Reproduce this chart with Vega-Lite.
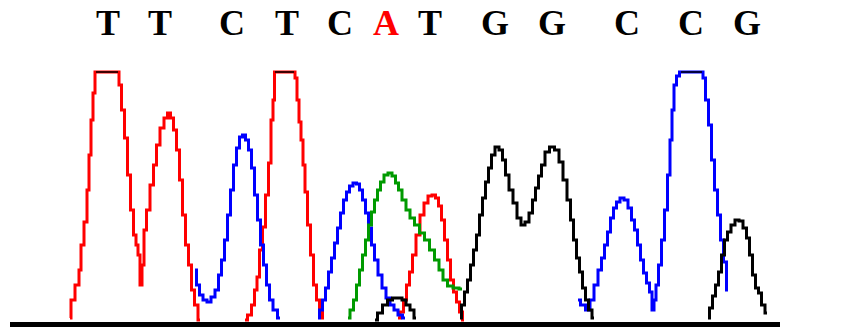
{
  "$schema": "https://vega.github.io/schema/vega-lite/v6.json",
  "width": 864,
  "height": 327,
  "autosize": {"type": "fit", "contains": "padding"},
  "padding": 0,
  "background": "white",
  "config": {"view": {"stroke": null}},
  "datasets": {
    "calls": [
      {"pos": 108, "base": "T"}, {"pos": 160, "base": "T"}, {"pos": 232, "base": "C"},
      {"pos": 287, "base": "T"}, {"pos": 340, "base": "C"}, {"pos": 386, "base": "A"},
      {"pos": 430, "base": "T"}, {"pos": 495, "base": "G"}, {"pos": 552, "base": "G"},
      {"pos": 627, "base": "C"}, {"pos": 691, "base": "C"}, {"pos": 747, "base": "G"}
    ],
    "traces": [
      {"seg": "T1", "base": "T", "scan": 70, "signal": 4}, {"seg": "T1", "base": "T", "scan": 72, "signal": 22},
      {"seg": "T1", "base": "T", "scan": 78, "signal": 37}, {"seg": "T1", "base": "T", "scan": 80, "signal": 52},
      {"seg": "T1", "base": "T", "scan": 82, "signal": 77}, {"seg": "T1", "base": "T", "scan": 86, "signal": 100},
      {"seg": "T1", "base": "T", "scan": 88, "signal": 132}, {"seg": "T1", "base": "T", "scan": 90, "signal": 167},
      {"seg": "T1", "base": "T", "scan": 92, "signal": 202}, {"seg": "T1", "base": "T", "scan": 94, "signal": 229},
      {"seg": "T1", "base": "T", "scan": 96, "signal": 250}, {"seg": "T1", "base": "T", "scan": 118, "signal": 250},
      {"seg": "T1", "base": "T", "scan": 120, "signal": 237}, {"seg": "T1", "base": "T", "scan": 123, "signal": 212},
      {"seg": "T1", "base": "T", "scan": 126, "signal": 184}, {"seg": "T1", "base": "T", "scan": 129, "signal": 147},
      {"seg": "T1", "base": "T", "scan": 132, "signal": 112}, {"seg": "T1", "base": "T", "scan": 135, "signal": 87},
      {"seg": "T1", "base": "T", "scan": 137, "signal": 77}, {"seg": "T1", "base": "T", "scan": 139, "signal": 67},
      {"seg": "T1", "base": "T", "scan": 141, "signal": 37}, {"seg": "T1", "base": "T", "scan": 143, "signal": 57},
      {"seg": "T1", "base": "T", "scan": 145, "signal": 92}, {"seg": "T1", "base": "T", "scan": 148, "signal": 112},
      {"seg": "T1", "base": "T", "scan": 152, "signal": 137}, {"seg": "T1", "base": "T", "scan": 155, "signal": 157},
      {"seg": "T1", "base": "T", "scan": 158, "signal": 177}, {"seg": "T1", "base": "T", "scan": 162, "signal": 194},
      {"seg": "T1", "base": "T", "scan": 166, "signal": 204}, {"seg": "T1", "base": "T", "scan": 169, "signal": 209},
      {"seg": "T1", "base": "T", "scan": 172, "signal": 204}, {"seg": "T1", "base": "T", "scan": 175, "signal": 192},
      {"seg": "T1", "base": "T", "scan": 178, "signal": 172}, {"seg": "T1", "base": "T", "scan": 181, "signal": 142},
      {"seg": "T1", "base": "T", "scan": 184, "signal": 107}, {"seg": "T1", "base": "T", "scan": 187, "signal": 77},
      {"seg": "T1", "base": "T", "scan": 190, "signal": 57}, {"seg": "T1", "base": "T", "scan": 193, "signal": 32},
      {"seg": "T1", "base": "T", "scan": 196, "signal": 17}, {"seg": "T1", "base": "T", "scan": 200, "signal": 2},

      {"seg": "T2", "base": "T", "scan": 245, "signal": 2}, {"seg": "T2", "base": "T", "scan": 250, "signal": 7},
      {"seg": "T2", "base": "T", "scan": 253, "signal": 17}, {"seg": "T2", "base": "T", "scan": 256, "signal": 32},
      {"seg": "T2", "base": "T", "scan": 258, "signal": 45}, {"seg": "T2", "base": "T", "scan": 261, "signal": 72},
      {"seg": "T2", "base": "T", "scan": 264, "signal": 95}, {"seg": "T2", "base": "T", "scan": 267, "signal": 127},
      {"seg": "T2", "base": "T", "scan": 270, "signal": 159}, {"seg": "T2", "base": "T", "scan": 272, "signal": 202},
      {"seg": "T2", "base": "T", "scan": 274, "signal": 222}, {"seg": "T2", "base": "T", "scan": 275, "signal": 250},
      {"seg": "T2", "base": "T", "scan": 294, "signal": 250}, {"seg": "T2", "base": "T", "scan": 296, "signal": 244},
      {"seg": "T2", "base": "T", "scan": 298, "signal": 222}, {"seg": "T2", "base": "T", "scan": 300, "signal": 200},
      {"seg": "T2", "base": "T", "scan": 302, "signal": 182}, {"seg": "T2", "base": "T", "scan": 304, "signal": 157},
      {"seg": "T2", "base": "T", "scan": 306, "signal": 130}, {"seg": "T2", "base": "T", "scan": 309, "signal": 97},
      {"seg": "T2", "base": "T", "scan": 312, "signal": 67}, {"seg": "T2", "base": "T", "scan": 315, "signal": 37},
      {"seg": "T2", "base": "T", "scan": 318, "signal": 22}, {"seg": "T2", "base": "T", "scan": 321, "signal": 12},
      {"seg": "T2", "base": "T", "scan": 324, "signal": 4},

      {"seg": "T3", "base": "T", "scan": 398, "signal": 4}, {"seg": "T3", "base": "T", "scan": 402, "signal": 10},
      {"seg": "T3", "base": "T", "scan": 405, "signal": 22}, {"seg": "T3", "base": "T", "scan": 408, "signal": 37},
      {"seg": "T3", "base": "T", "scan": 411, "signal": 50}, {"seg": "T3", "base": "T", "scan": 414, "signal": 67},
      {"seg": "T3", "base": "T", "scan": 418, "signal": 87}, {"seg": "T3", "base": "T", "scan": 422, "signal": 107},
      {"seg": "T3", "base": "T", "scan": 426, "signal": 119}, {"seg": "T3", "base": "T", "scan": 430, "signal": 126},
      {"seg": "T3", "base": "T", "scan": 434, "signal": 127}, {"seg": "T3", "base": "T", "scan": 437, "signal": 124},
      {"seg": "T3", "base": "T", "scan": 440, "signal": 116}, {"seg": "T3", "base": "T", "scan": 443, "signal": 102},
      {"seg": "T3", "base": "T", "scan": 446, "signal": 82}, {"seg": "T3", "base": "T", "scan": 449, "signal": 62},
      {"seg": "T3", "base": "T", "scan": 452, "signal": 42}, {"seg": "T3", "base": "T", "scan": 455, "signal": 30},
      {"seg": "T3", "base": "T", "scan": 458, "signal": 20}, {"seg": "T3", "base": "T", "scan": 461, "signal": 10},
      {"seg": "T3", "base": "T", "scan": 464, "signal": 2},

      {"seg": "C1", "base": "C", "scan": 195, "signal": 52}, {"seg": "C1", "base": "C", "scan": 198, "signal": 37},
      {"seg": "C1", "base": "C", "scan": 201, "signal": 27}, {"seg": "C1", "base": "C", "scan": 205, "signal": 22},
      {"seg": "C1", "base": "C", "scan": 209, "signal": 20}, {"seg": "C1", "base": "C", "scan": 213, "signal": 25},
      {"seg": "C1", "base": "C", "scan": 217, "signal": 32}, {"seg": "C1", "base": "C", "scan": 220, "signal": 47},
      {"seg": "C1", "base": "C", "scan": 223, "signal": 62}, {"seg": "C1", "base": "C", "scan": 226, "signal": 82},
      {"seg": "C1", "base": "C", "scan": 229, "signal": 107}, {"seg": "C1", "base": "C", "scan": 232, "signal": 132},
      {"seg": "C1", "base": "C", "scan": 235, "signal": 157}, {"seg": "C1", "base": "C", "scan": 238, "signal": 174},
      {"seg": "C1", "base": "C", "scan": 241, "signal": 185}, {"seg": "C1", "base": "C", "scan": 244, "signal": 187},
      {"seg": "C1", "base": "C", "scan": 247, "signal": 182}, {"seg": "C1", "base": "C", "scan": 250, "signal": 172},
      {"seg": "C1", "base": "C", "scan": 253, "signal": 154}, {"seg": "C1", "base": "C", "scan": 256, "signal": 127},
      {"seg": "C1", "base": "C", "scan": 259, "signal": 102}, {"seg": "C1", "base": "C", "scan": 262, "signal": 77},
      {"seg": "C1", "base": "C", "scan": 265, "signal": 57}, {"seg": "C1", "base": "C", "scan": 268, "signal": 37},
      {"seg": "C1", "base": "C", "scan": 271, "signal": 22}, {"seg": "C1", "base": "C", "scan": 275, "signal": 12},
      {"seg": "C1", "base": "C", "scan": 280, "signal": 4},

      {"seg": "C2", "base": "C", "scan": 318, "signal": 4}, {"seg": "C2", "base": "C", "scan": 321, "signal": 12},
      {"seg": "C2", "base": "C", "scan": 324, "signal": 22}, {"seg": "C2", "base": "C", "scan": 327, "signal": 34},
      {"seg": "C2", "base": "C", "scan": 330, "signal": 50}, {"seg": "C2", "base": "C", "scan": 333, "signal": 64},
      {"seg": "C2", "base": "C", "scan": 336, "signal": 79}, {"seg": "C2", "base": "C", "scan": 339, "signal": 94},
      {"seg": "C2", "base": "C", "scan": 342, "signal": 109}, {"seg": "C2", "base": "C", "scan": 345, "signal": 122},
      {"seg": "C2", "base": "C", "scan": 348, "signal": 130}, {"seg": "C2", "base": "C", "scan": 351, "signal": 136},
      {"seg": "C2", "base": "C", "scan": 355, "signal": 139}, {"seg": "C2", "base": "C", "scan": 358, "signal": 138},
      {"seg": "C2", "base": "C", "scan": 361, "signal": 132}, {"seg": "C2", "base": "C", "scan": 364, "signal": 122},
      {"seg": "C2", "base": "C", "scan": 367, "signal": 109}, {"seg": "C2", "base": "C", "scan": 370, "signal": 94},
      {"seg": "C2", "base": "C", "scan": 373, "signal": 77}, {"seg": "C2", "base": "C", "scan": 376, "signal": 62},
      {"seg": "C2", "base": "C", "scan": 380, "signal": 47}, {"seg": "C2", "base": "C", "scan": 384, "signal": 34},
      {"seg": "C2", "base": "C", "scan": 388, "signal": 24}, {"seg": "C2", "base": "C", "scan": 392, "signal": 17},
      {"seg": "C2", "base": "C", "scan": 396, "signal": 12}, {"seg": "C2", "base": "C", "scan": 400, "signal": 7},
      {"seg": "C2", "base": "C", "scan": 405, "signal": 4},

      {"seg": "C3", "base": "C", "scan": 578, "signal": 22}, {"seg": "C3", "base": "C", "scan": 583, "signal": 17},
      {"seg": "C3", "base": "C", "scan": 588, "signal": 12}, {"seg": "C3", "base": "C", "scan": 592, "signal": 22},
      {"seg": "C3", "base": "C", "scan": 596, "signal": 37}, {"seg": "C3", "base": "C", "scan": 600, "signal": 52},
      {"seg": "C3", "base": "C", "scan": 603, "signal": 64}, {"seg": "C3", "base": "C", "scan": 606, "signal": 77},
      {"seg": "C3", "base": "C", "scan": 609, "signal": 90}, {"seg": "C3", "base": "C", "scan": 612, "signal": 104},
      {"seg": "C3", "base": "C", "scan": 615, "signal": 114}, {"seg": "C3", "base": "C", "scan": 618, "signal": 120},
      {"seg": "C3", "base": "C", "scan": 622, "signal": 124}, {"seg": "C3", "base": "C", "scan": 626, "signal": 122},
      {"seg": "C3", "base": "C", "scan": 630, "signal": 114}, {"seg": "C3", "base": "C", "scan": 633, "signal": 102},
      {"seg": "C3", "base": "C", "scan": 636, "signal": 92}, {"seg": "C3", "base": "C", "scan": 639, "signal": 77},
      {"seg": "C3", "base": "C", "scan": 642, "signal": 62}, {"seg": "C3", "base": "C", "scan": 645, "signal": 49},
      {"seg": "C3", "base": "C", "scan": 648, "signal": 39}, {"seg": "C3", "base": "C", "scan": 651, "signal": 30},
      {"seg": "C3", "base": "C", "scan": 653, "signal": 12}, {"seg": "C3", "base": "C", "scan": 655, "signal": 22},
      {"seg": "C3", "base": "C", "scan": 657, "signal": 37}, {"seg": "C3", "base": "C", "scan": 660, "signal": 57},
      {"seg": "C3", "base": "C", "scan": 663, "signal": 82}, {"seg": "C3", "base": "C", "scan": 666, "signal": 112},
      {"seg": "C3", "base": "C", "scan": 669, "signal": 147}, {"seg": "C3", "base": "C", "scan": 671, "signal": 182},
      {"seg": "C3", "base": "C", "scan": 673, "signal": 212}, {"seg": "C3", "base": "C", "scan": 675, "signal": 237},
      {"seg": "C3", "base": "C", "scan": 678, "signal": 246}, {"seg": "C3", "base": "C", "scan": 681, "signal": 250},
      {"seg": "C3", "base": "C", "scan": 702, "signal": 250}, {"seg": "C3", "base": "C", "scan": 704, "signal": 244},
      {"seg": "C3", "base": "C", "scan": 707, "signal": 222}, {"seg": "C3", "base": "C", "scan": 710, "signal": 197},
      {"seg": "C3", "base": "C", "scan": 713, "signal": 162}, {"seg": "C3", "base": "C", "scan": 716, "signal": 132},
      {"seg": "C3", "base": "C", "scan": 719, "signal": 107}, {"seg": "C3", "base": "C", "scan": 722, "signal": 82},
      {"seg": "C3", "base": "C", "scan": 725, "signal": 60}, {"seg": "C3", "base": "C", "scan": 728, "signal": 32},

      {"seg": "A1", "base": "A", "scan": 348, "signal": 4}, {"seg": "A1", "base": "A", "scan": 352, "signal": 12},
      {"seg": "A1", "base": "A", "scan": 355, "signal": 22}, {"seg": "A1", "base": "A", "scan": 358, "signal": 37},
      {"seg": "A1", "base": "A", "scan": 361, "signal": 52}, {"seg": "A1", "base": "A", "scan": 364, "signal": 67},
      {"seg": "A1", "base": "A", "scan": 367, "signal": 82}, {"seg": "A1", "base": "A", "scan": 370, "signal": 97},
      {"seg": "A1", "base": "A", "scan": 373, "signal": 110}, {"seg": "A1", "base": "A", "scan": 376, "signal": 122},
      {"seg": "A1", "base": "A", "scan": 379, "signal": 132}, {"seg": "A1", "base": "A", "scan": 382, "signal": 140},
      {"seg": "A1", "base": "A", "scan": 386, "signal": 147}, {"seg": "A1", "base": "A", "scan": 390, "signal": 149},
      {"seg": "A1", "base": "A", "scan": 394, "signal": 146}, {"seg": "A1", "base": "A", "scan": 397, "signal": 139},
      {"seg": "A1", "base": "A", "scan": 400, "signal": 132}, {"seg": "A1", "base": "A", "scan": 404, "signal": 122},
      {"seg": "A1", "base": "A", "scan": 408, "signal": 112}, {"seg": "A1", "base": "A", "scan": 412, "signal": 104},
      {"seg": "A1", "base": "A", "scan": 417, "signal": 97}, {"seg": "A1", "base": "A", "scan": 422, "signal": 89},
      {"seg": "A1", "base": "A", "scan": 427, "signal": 82}, {"seg": "A1", "base": "A", "scan": 432, "signal": 72},
      {"seg": "A1", "base": "A", "scan": 437, "signal": 62}, {"seg": "A1", "base": "A", "scan": 441, "signal": 52},
      {"seg": "A1", "base": "A", "scan": 445, "signal": 42}, {"seg": "A1", "base": "A", "scan": 450, "signal": 36},
      {"seg": "A1", "base": "A", "scan": 456, "signal": 34}, {"seg": "A1", "base": "A", "scan": 462, "signal": 33},

      {"seg": "G1", "base": "G", "scan": 375, "signal": 2}, {"seg": "G1", "base": "G", "scan": 380, "signal": 9},
      {"seg": "G1", "base": "G", "scan": 385, "signal": 17}, {"seg": "G1", "base": "G", "scan": 390, "signal": 22},
      {"seg": "G1", "base": "G", "scan": 395, "signal": 24}, {"seg": "G1", "base": "G", "scan": 400, "signal": 24},
      {"seg": "G1", "base": "G", "scan": 404, "signal": 22}, {"seg": "G1", "base": "G", "scan": 408, "signal": 17},
      {"seg": "G1", "base": "G", "scan": 412, "signal": 12}, {"seg": "G1", "base": "G", "scan": 416, "signal": 4},

      {"seg": "G2", "base": "G", "scan": 460, "signal": 4}, {"seg": "G2", "base": "G", "scan": 463, "signal": 17},
      {"seg": "G2", "base": "G", "scan": 466, "signal": 30}, {"seg": "G2", "base": "G", "scan": 469, "signal": 42},
      {"seg": "G2", "base": "G", "scan": 472, "signal": 57}, {"seg": "G2", "base": "G", "scan": 475, "signal": 72},
      {"seg": "G2", "base": "G", "scan": 478, "signal": 87}, {"seg": "G2", "base": "G", "scan": 481, "signal": 107},
      {"seg": "G2", "base": "G", "scan": 484, "signal": 124}, {"seg": "G2", "base": "G", "scan": 487, "signal": 140},
      {"seg": "G2", "base": "G", "scan": 490, "signal": 154}, {"seg": "G2", "base": "G", "scan": 493, "signal": 167},
      {"seg": "G2", "base": "G", "scan": 497, "signal": 175}, {"seg": "G2", "base": "G", "scan": 501, "signal": 172},
      {"seg": "G2", "base": "G", "scan": 504, "signal": 162}, {"seg": "G2", "base": "G", "scan": 507, "signal": 147},
      {"seg": "G2", "base": "G", "scan": 511, "signal": 132}, {"seg": "G2", "base": "G", "scan": 515, "signal": 119},
      {"seg": "G2", "base": "G", "scan": 519, "signal": 104}, {"seg": "G2", "base": "G", "scan": 523, "signal": 97},
      {"seg": "G2", "base": "G", "scan": 527, "signal": 100}, {"seg": "G2", "base": "G", "scan": 531, "signal": 109},
      {"seg": "G2", "base": "G", "scan": 534, "signal": 122}, {"seg": "G2", "base": "G", "scan": 537, "signal": 134},
      {"seg": "G2", "base": "G", "scan": 540, "signal": 146}, {"seg": "G2", "base": "G", "scan": 543, "signal": 157},
      {"seg": "G2", "base": "G", "scan": 547, "signal": 170}, {"seg": "G2", "base": "G", "scan": 552, "signal": 175},
      {"seg": "G2", "base": "G", "scan": 557, "signal": 172}, {"seg": "G2", "base": "G", "scan": 561, "signal": 160},
      {"seg": "G2", "base": "G", "scan": 565, "signal": 142}, {"seg": "G2", "base": "G", "scan": 569, "signal": 122},
      {"seg": "G2", "base": "G", "scan": 572, "signal": 102}, {"seg": "G2", "base": "G", "scan": 575, "signal": 82},
      {"seg": "G2", "base": "G", "scan": 578, "signal": 64}, {"seg": "G2", "base": "G", "scan": 581, "signal": 50},
      {"seg": "G2", "base": "G", "scan": 584, "signal": 34}, {"seg": "G2", "base": "G", "scan": 587, "signal": 22},
      {"seg": "G2", "base": "G", "scan": 590, "signal": 12}, {"seg": "G2", "base": "G", "scan": 594, "signal": 4},

      {"seg": "G3", "base": "G", "scan": 708, "signal": 4}, {"seg": "G3", "base": "G", "scan": 711, "signal": 14},
      {"seg": "G3", "base": "G", "scan": 714, "signal": 26}, {"seg": "G3", "base": "G", "scan": 717, "signal": 37},
      {"seg": "G3", "base": "G", "scan": 720, "signal": 50}, {"seg": "G3", "base": "G", "scan": 723, "signal": 67},
      {"seg": "G3", "base": "G", "scan": 726, "signal": 82}, {"seg": "G3", "base": "G", "scan": 729, "signal": 90},
      {"seg": "G3", "base": "G", "scan": 733, "signal": 97}, {"seg": "G3", "base": "G", "scan": 737, "signal": 102},
      {"seg": "G3", "base": "G", "scan": 741, "signal": 101}, {"seg": "G3", "base": "G", "scan": 745, "signal": 94},
      {"seg": "G3", "base": "G", "scan": 748, "signal": 84}, {"seg": "G3", "base": "G", "scan": 751, "signal": 67},
      {"seg": "G3", "base": "G", "scan": 754, "signal": 47}, {"seg": "G3", "base": "G", "scan": 757, "signal": 34},
      {"seg": "G3", "base": "G", "scan": 760, "signal": 29}, {"seg": "G3", "base": "G", "scan": 763, "signal": 17},
      {"seg": "G3", "base": "G", "scan": 767, "signal": 9}
    ],
    "saturated": [
      {"start": 96, "end": 118, "signal": 250},
      {"start": 275, "end": 294, "signal": 250},
      {"start": 681, "end": 702, "signal": 250}
    ],
    "baseline": [
      {"start": 10, "end": 780, "signal": -2.5}
    ]
  },
  "layer": [
    {
      "data": {"name": "baseline"},
      "mark": {"type": "rule", "color": "black", "strokeWidth": 5},
      "encoding": {
        "x": {"field": "start", "type": "quantitative", "scale": {"domain": [0, 864], "nice": false, "zero": false}, "axis": null},
        "x2": {"field": "end"},
        "y": {"field": "signal", "type": "quantitative", "scale": {"domain": [-5, 322], "nice": false, "zero": false}, "axis": null}
      }
    },
    {
      "data": {"name": "traces"},
      "mark": {"type": "line", "strokeWidth": 3, "interpolate": "step", "strokeJoin": "miter", "clip": true},
      "encoding": {
        "x": {"field": "scan", "type": "quantitative", "scale": {"domain": [0, 864], "nice": false, "zero": false}, "axis": null},
        "y": {"field": "signal", "type": "quantitative", "scale": {"domain": [-5, 322], "nice": false, "zero": false}, "axis": null},
        "detail": {"field": "seg", "type": "nominal"},
        "color": {
          "field": "base", "type": "nominal", "legend": null,
          "scale": {"domain": ["A", "C", "G", "T"], "range": ["#009a00", "#0000ff", "#000000", "#ff0000"]}
        },
        "order": {"field": "scan", "type": "quantitative"}
      }
    },
    {
      "data": {"name": "saturated"},
      "mark": {"type": "rule", "color": "black", "strokeWidth": 1.5},
      "encoding": {
        "x": {"field": "start", "type": "quantitative", "scale": {"domain": [0, 864], "nice": false, "zero": false}, "axis": null},
        "x2": {"field": "end"},
        "y": {"field": "signal", "type": "quantitative", "scale": {"domain": [-5, 322], "nice": false, "zero": false}, "axis": null}
      }
    },
    {
      "data": {"name": "calls"},
      "mark": {"type": "text", "font": "Liberation Serif", "fontWeight": "bold", "fontSize": 36, "baseline": "alphabetic", "align": "center"},
      "encoding": {
        "x": {"field": "pos", "type": "quantitative", "scale": {"domain": [0, 864], "nice": false, "zero": false}, "axis": null},
        "y": {"datum": 287, "type": "quantitative", "scale": {"domain": [-5, 322], "nice": false, "zero": false}, "axis": null},
        "text": {"field": "base"},
        "color": {
          "condition": {"test": "datum.base === 'A'", "value": "#ff0000"},
          "value": "#000000"
        }
      }
    }
  ]
}
